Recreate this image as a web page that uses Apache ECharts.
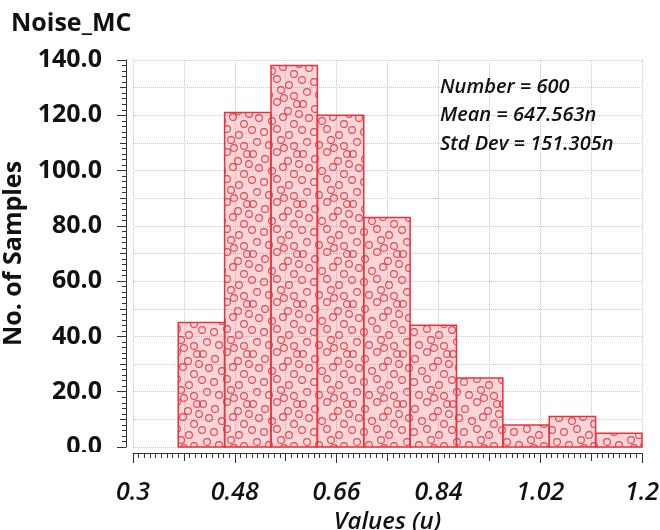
<!DOCTYPE html>
<html><head><meta charset="utf-8">
<script src="https://cdn.jsdelivr.net/npm/echarts@6/dist/echarts.min.js"></script>
<style>html,body{margin:0;padding:0;background:#fff}#c{width:660px;height:530px}</style>
</head><body><div id="c"></div>
<script>
// ---- data ----
const titleText = 'Noise_MC';
const binEdges = [0.380, 0.462, 0.544, 0.626, 0.708, 0.790, 0.872, 0.954, 1.036, 1.118, 1.200];
const binCounts = [45, 121, 138, 120, 83, 44, 25, 8, 11, 5];
const xTicks = [0.3, 0.48, 0.66, 0.84, 1.02, 1.2];
const yTicks = [0, 20, 40, 60, 80, 100, 120, 140];
const statsLines = ['Number = 600', 'Mean = 647.563n', 'Std Dev = 151.305n'];
const xName = 'Values (u)';
const yName = 'No. of Samples';

// ---- style: dotted texture for the bars ----
const dotTexture = [[3,4],[15,9],[27,2],[38,11],[47,4],[9,18],[22,21],[33,17],[44,24],
  [2,30],[14,32],[27,29],[39,35],[7,42],[19,45],[31,40],[44,46],[34,48],[49,14]];
const T = 50;
const tile = document.createElement('canvas');
tile.width = T; tile.height = T;
const g = tile.getContext('2d');
g.fillStyle = 'rgba(240,90,100,0.25)';
g.fillRect(0, 0, T, T);
g.strokeStyle = 'rgba(228,32,45,0.8)';
g.lineWidth = 1.1;
for (const [px, py] of dotTexture) {
  for (const dx of [-T, 0, T]) for (const dy of [-T, 0, T]) {
    g.beginPath(); g.arc(px + dx, py + dy, 3.4, 0, Math.PI * 2); g.stroke();
  }
}
const barFill = { type: 'pattern', image: tile, repeat: 'repeat' };

const bins = binCounts.map((c, i) => [binEdges[i], binEdges[i + 1], c]);
const pickTick = (arr, v) => arr.find(t => Math.abs(t - v) < 1e-6);

const F = 'Open Sans';
const chart = echarts.init(document.getElementById('c'), null, { renderer: 'canvas' });
chart.setOption({
  animation: false,
  backgroundColor: '#fff',
  title: { text: titleText, left: 6, top: 6,
    textStyle: { fontFamily: F, fontWeight: 'bold', fontSize: 25, color: '#111' } },
  grid: { left: 133, right: 18, top: 60, bottom: 83, containLabel: false, outerBoundsMode: 'none' },
  xAxis: [{
    type: 'value', min: 0.3, max: 1.2, interval: 0.18, position: 'bottom', offset: 6,
    axisLine: { show: true, onZero: false, lineStyle: { color: '#333', width: 1 } },
    axisTick: { show: true, length: 10, lineStyle: { color: '#333' } },
    minorTick: { show: true, splitNumber: 18, length: 5, lineStyle: { color: '#333' } },
    splitLine: { show: false },
    axisLabel: { margin: 27, fontFamily: F, fontStyle: 'italic', fontWeight: 600, fontSize: 25, color: '#111',
      formatter: v => { const t = pickTick(xTicks, v); return t === undefined ? '' : String(t); } },
    name: xName, nameLocation: 'middle', nameGap: 57,
    nameTextStyle: { fontFamily: F, fontStyle: 'italic', fontWeight: 600, fontSize: 24, color: '#111' }
  }, {
    type: 'value', min: 0.3, max: 1.2, interval: 0.09, position: 'bottom', offset: 6,
    axisLine: { show: false, onZero: false },
    axisTick: { show: true, length: 8, lineStyle: { color: '#333' } },
    axisLabel: { show: false },
    splitLine: { show: true, lineStyle: { type: 'dotted', color: '#c8c8c8', width: 1 } }
  }],
  yAxis: [{
    type: 'value', min: 0, max: 140, interval: 20, position: 'left', offset: 7,
    axisLine: { show: true, onZero: false, lineStyle: { color: '#333', width: 1 } },
    axisTick: { show: true, length: 9, lineStyle: { color: '#333' } },
    minorTick: { show: true, splitNumber: 10, length: 4, lineStyle: { color: '#333' } },
    splitLine: { show: false },
    axisLabel: { margin: 24, fontFamily: F, fontWeight: 'bold', fontSize: 25, color: '#111',
      formatter: v => { const t = pickTick(yTicks, v); return t === undefined ? '' : t.toFixed(1); } },
    name: yName, nameLocation: 'middle', nameGap: 92,
    nameTextStyle: { fontFamily: F, fontWeight: 'bold', fontSize: 25, color: '#111' }
  }, {
    type: 'value', min: 0, max: 140, interval: 10, position: 'left', offset: 7,
    axisLine: { show: false, onZero: false },
    axisTick: { show: true, length: 6, lineStyle: { color: '#333' } },
    axisLabel: { show: false },
    splitLine: { show: true, lineStyle: { type: 'dotted', color: '#c8c8c8', width: 1 } }
  }],
  graphic: [
    { type: 'rect', left: 0, top: 452, shape: { width: 124, height: 18 }, style: { fill: '#fff' }, z: 100 },
    ...statsLines.map((s, i) => ({
      type: 'text', left: 440, top: 77 + i * 28.5, z: 50,
      style: { text: s, fontFamily: F, fontStyle: 'italic', fontWeight: 600, fontSize: 20, fill: '#111' }
    }))
  ],
  series: [{
    type: 'custom', xAxisIndex: 0, yAxisIndex: 0,
    encode: { x: [0, 1], y: 2 },
    data: bins,
    renderItem: (params, api) => {
      const p0 = api.coord([api.value(0), 0]);
      const p1 = api.coord([api.value(1), api.value(2)]);
      return { type: 'rect',
        shape: { x: p0[0], y: p1[1], width: p1[0] - p0[0], height: p0[1] - p1[1] },
        style: { fill: barFill, stroke: '#e8323e', lineWidth: 1.5 } };
    }
  }]
});
</script></body></html>
